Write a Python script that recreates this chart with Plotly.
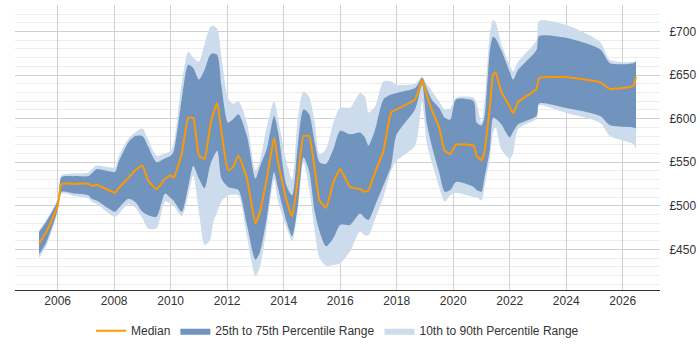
import plotly.graph_objects as go

years = [2005.34, 2005.6, 2006.0, 2006.14, 2006.6, 2007.08, 2007.2, 2007.38, 2008.03, 2008.15, 2008.5,
         2008.74, 2009.0, 2009.2, 2009.5, 2009.8, 2010.0, 2010.1, 2010.39, 2010.62, 2010.8, 2011.0,
         2011.2, 2011.39, 2011.5, 2011.65, 2011.8, 2012.03, 2012.2, 2012.4, 2012.7, 2013.0, 2013.16,
         2013.4, 2013.66, 2013.8, 2014.1, 2014.3, 2014.5, 2014.7, 2014.9, 2015.1, 2015.27, 2015.5,
         2015.76, 2016.0, 2016.35, 2016.7, 2016.88, 2017.0, 2017.24, 2017.53, 2017.8, 2018.0, 2018.65,
         2018.9, 2019.06, 2019.24, 2019.5, 2019.7, 2019.9, 2020.1, 2020.72, 2020.83, 2021.0, 2021.1,
         2021.3, 2021.41, 2021.5, 2021.7, 2022.0, 2022.12, 2022.3, 2022.95, 2023.04, 2023.95, 2025.2,
         2025.55, 2026.38, 2026.47]

median = [457, 470, 500, 525, 525, 525.5, 522.7, 524, 515, 520, 532,
          540.5, 546, 529, 519, 531, 535, 532, 559, 601, 601, 557.5,
          553.7, 590, 605, 618, 584, 540.5, 544, 557.5, 531, 480, 493,
          531, 578, 550, 506, 487.6, 530, 580, 580, 542, 506, 497.7,
          527, 542, 521.6, 519, 516, 518, 538.7, 563, 606.8, 610.6, 622,
          644, 627.6, 610.6, 590, 563, 559.4, 570, 569, 557.5, 552, 561,
          614, 650.3, 653, 631, 614, 606, 619, 634, 646.6, 647.7, 641.6,
          634, 637.8, 647.7]

p25 = [444, 458, 495, 516, 514, 512, 508, 506, 493, 497, 508,
       504.5, 493, 489, 487.5, 514, 508.6, 506, 493, 521.6, 546, 531,
       520, 546, 555, 563, 531, 521.6, 520, 518, 478, 438, 447,
       485.6, 538.7, 520, 482, 465, 500, 555.7, 540, 493, 470.5, 453.4,
       463, 478, 478, 491, 485.6, 483.7, 500.7, 523.4, 546, 582, 610.6,
       639, 595.5, 569, 538.7, 516, 518, 527.3, 521.6, 518, 516, 531,
       565, 601, 600, 593.5, 578.4, 585, 593.5, 603, 617.4, 612.5, 603,
       592.4, 589.8, 588.6]

p75 = [470, 482, 506, 533, 534, 534, 537, 542, 539, 550, 572.7,
       580, 580, 568, 550, 554.5, 557.5, 562, 622, 661.7, 658, 644.7,
       656, 673, 675, 673, 637, 595.5, 599, 605, 580, 531, 545,
       565, 603, 585, 523, 512, 570, 610.6, 605, 572.7, 550, 548,
       565, 586, 582, 584, 578, 569, 587.8, 622, 627.6, 629.5, 635,
       646.6, 635, 622, 612.5, 601, 599, 622, 620, 595.5, 592, 600,
       678.7, 694, 692, 678.7, 654, 644.7, 656, 678.7, 694.7, 693, 679.5,
       663.6, 663.6, 665.5]

p10 = [440, 454, 493, 514, 511, 509, 505, 502, 487, 490, 502,
       498, 485.6, 474, 474, 505, 502, 500, 488, 512, 535, 493,
       455, 460, 480, 493, 505, 512, 513, 512, 465, 419, 430,
       475, 530, 505, 475, 460, 495, 550, 520, 470, 440, 431,
       432, 434, 447.7, 470.5, 466, 466, 485, 510, 540, 551.8, 569,
       620, 572.7, 550, 521.6, 504.5, 512, 515, 510, 510, 506, 520,
       555, 584, 590, 565, 553.7, 560, 588, 600, 615, 607, 595,
       580, 570.7, 565]

p90 = [472, 484, 508, 535, 537, 538, 542, 546, 544, 556, 577,
       584, 588.6, 576, 557.5, 560, 563, 570, 641, 676.8, 670, 665.5,
       686, 705, 707, 703, 670, 624, 617, 620, 595, 540.5, 552,
       590, 620, 600, 550, 530, 600, 631, 625, 595, 559, 565,
       595.5, 612.5, 612.5, 629.5, 625, 607, 614, 642.8, 642.8, 639, 640,
       648.4, 640, 632, 620, 610.6, 612, 624, 624, 618, 595, 615,
       697.7, 713.6, 711, 686, 661.7, 654, 665.5, 690, 712, 708, 688,
       667.4, 665, 666]

tick_years = [2006, 2008, 2010, 2012, 2014, 2016, 2018, 2020, 2022, 2024, 2026]
y_ticks = [450, 500, 550, 600, 650, 700]

LIGHT = "#cddcec"
DARK = "#7094bd"
ORANGE = "#ff9900"
SMOOTH = 0.7

fig = go.Figure()
fig.add_trace(go.Scatter(x=years, y=p10, mode="lines",
                         line=dict(width=0, color=LIGHT, shape="spline", smoothing=SMOOTH),
                         showlegend=False, hoverinfo="skip"))
fig.add_trace(go.Scatter(x=years, y=p90, mode="lines",
                         line=dict(width=0, color=LIGHT, shape="spline", smoothing=SMOOTH),
                         fill="tonexty", fillcolor=LIGHT, name="10th to 90th Percentile Range",
                         legendrank=3))
fig.add_trace(go.Scatter(x=years, y=p25, mode="lines",
                         line=dict(width=0, color=DARK, shape="spline", smoothing=SMOOTH),
                         showlegend=False, hoverinfo="skip"))
fig.add_trace(go.Scatter(x=years, y=p75, mode="lines",
                         line=dict(width=0, color=DARK, shape="spline", smoothing=SMOOTH),
                         fill="tonexty", fillcolor=DARK, name="25th to 75th Percentile Range",
                         legendrank=2))
fig.add_trace(go.Scatter(x=years, y=median, mode="lines",
                         line=dict(width=2, color=ORANGE, shape="spline", smoothing=0.4),
                         name="Median", legendrank=1))

fig.update_layout(
    width=700, height=350,
    margin=dict(l=15, r=40, t=5, b=58),
    paper_bgcolor="white", plot_bgcolor="white",
    font=dict(family="Liberation Sans, Arial, sans-serif", size=12, color="#333333"),
    showlegend=True,
    legend=dict(orientation="h", x=0.5, xanchor="center", y=-0.143, yanchor="middle",
                traceorder="normal",
                font=dict(size=12, color="#333333"), itemwidth=30, tracegroupgap=0),
    hovermode=False,
    xaxis=dict(range=[2004.489, 2027.32], tickmode="array", tickvals=tick_years,
               ticktext=[str(t) for t in tick_years], showgrid=True, gridcolor="#d0d0d0",
               gridwidth=1, showline=True, linecolor="#333333", linewidth=1, zeroline=False,
               ticks="", fixedrange=True),
    yaxis=dict(range=[403.3, 730.4], side="right", tickmode="array", tickvals=y_ticks,
               ticktext=["£" + str(v) for v in y_ticks], showgrid=True, gridcolor="#d0d0d0",
               gridwidth=1, zeroline=False, showline=False, ticks="outside", ticklen=6,
               tickcolor="rgba(0,0,0,0)",
               minor=dict(tickmode="linear", tick0=400, dtick=10, showgrid=True,
                          gridcolor="#ececec", gridwidth=1, ticks=""),
               fixedrange=True),
)

fig.write_html("out.html")
